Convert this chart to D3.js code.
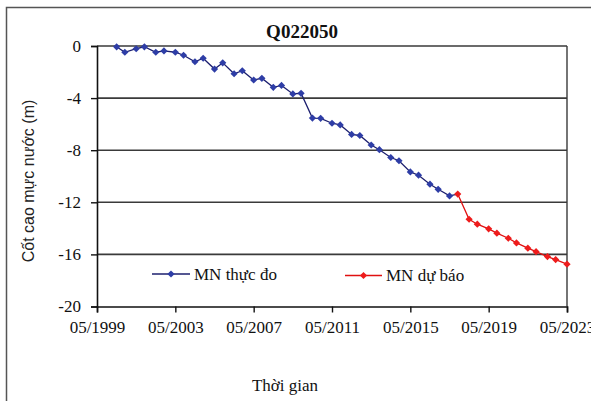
<!DOCTYPE html>
<html>
<head>
<meta charset="utf-8">
<script src="https://cdn.jsdelivr.net/npm/d3@7"></script>
<style>
  html, body { margin: 0; padding: 0; background: #fff; }
  svg { display: block; }
</style>
</head>
<body>
<svg id="chart" width="591" height="401"></svg>
<script>
const title = "Q022050";
const yAxisLabel = "Cốt cao mực nước (m)";
const xAxisLabel = "Thời gian";
const seriesNames = ["MN thực đo", "MN dự báo"];

const xTickLabels = ["05/1999", "05/2003", "05/2007", "05/2011", "05/2015", "05/2019", "05/2023"];
const yTickValues = [0, -4, -8, -12, -16, -20];

const observedDates = [
  "05/2000","10/2000","05/2001","10/2001","05/2002","10/2002","05/2003","10/2003",
  "05/2004","10/2004","05/2005","10/2005","05/2006","10/2006","05/2007","10/2007",
  "05/2008","10/2008","05/2009","10/2009","05/2010","10/2010","05/2011","10/2011",
  "05/2012","10/2012","05/2013","10/2013","05/2014","10/2014","05/2015","10/2015",
  "05/2016","10/2016","05/2017","10/2017"
];
const observedValues = [
  -0.06, -0.48, -0.21, -0.06, -0.48, -0.38, -0.48, -0.71,
  -1.21, -0.94, -1.77, -1.29, -2.13, -1.90, -2.61, -2.48,
  -3.17, -3.03, -3.68, -3.63, -5.53, -5.55, -5.93, -6.06,
  -6.79, -6.87, -7.60, -7.96, -8.56, -8.81, -9.67, -9.92,
  -10.61, -11.00, -11.51, -11.37
];

const forecastDates = [
  "10/2017","05/2018","10/2018","05/2019","10/2019","05/2020",
  "10/2020","05/2021","10/2021","05/2022","10/2022","05/2023"
];
const forecastValues = [
  -11.37, -13.30, -13.68, -14.04, -14.37, -14.76,
  -15.12, -15.52, -15.79, -16.17, -16.40, -16.75
];

const parse = d3.timeParse("%m/%Y");
const svg = d3.select("#chart");
const L = 97, R = 567, T = 46, B = 306.5;

const x = d3.scaleTime().domain([parse("05/1999"), parse("05/2023")]).range([L, R]);
const y = d3.scaleLinear().domain([-20, 0]).range([B, T]);

const serif = "'Liberation Serif', 'Times New Roman', serif";
const sans = "'Liberation Sans', Arial, sans-serif";

// outer frame
svg.append("rect").attr("x", 6.5).attr("y", 7.5).attr("width", 620).attr("height", 420)
  .attr("fill", "none").attr("stroke", "#555").attr("stroke-width", 1.5);

// gridlines
svg.append("g").selectAll("line").data(yTickValues.filter(v => v > -20)).join("line")
  .attr("x1", L).attr("x2", R).attr("y1", d => y(d)).attr("y2", d => y(d))
  .attr("stroke", "#3a3a3a").attr("stroke-width", 1.6);
// right frame
svg.append("line").attr("x1", R).attr("x2", R).attr("y1", T).attr("y2", B)
  .attr("stroke", "#3a3a3a").attr("stroke-width", 1.4);

// axes
const yAxis = d3.axisLeft(y).tickValues(yTickValues).tickSize(6).tickPadding(10)
  .tickFormat(d => d === 0 ? "0" : "-" + Math.abs(d));
const gy = svg.append("g").attr("transform", `translate(${L},0)`).call(yAxis);
const xAxis = d3.axisBottom(x).tickValues(xTickLabels.map(parse)).tickSize(6).tickPadding(8)
  .tickFormat(d3.timeFormat("%m/%Y"));
const gx = svg.append("g").attr("transform", `translate(0,${B})`).call(xAxis);
[gx, gy].forEach(g => {
  g.select(".domain").attr("stroke", "#111").attr("stroke-width", 1.6);
  g.selectAll(".tick line").attr("stroke", "#111").attr("stroke-width", 1.4);
  g.selectAll(".tick text").attr("font-family", serif).attr("font-size", 17).attr("fill", "#111");
});

// lines
const line = d3.line().x(d => x(d.date)).y(d => y(d.value));
const obs = observedDates.map((d, i) => ({ date: parse(d), value: observedValues[i] }));
const fc = forecastDates.map((d, i) => ({ date: parse(d), value: forecastValues[i] }));

const blueLine = "#1c1f6e", blueMark = "#2e3da6";
const redLine = "#e01010", redMark = "#ee1c1c";
const marker = d3.symbol().type(d3.symbolSquare).size(26);

svg.append("path").datum(obs).attr("d", line).attr("fill", "none")
  .attr("stroke", blueLine).attr("stroke-width", 1.3);
svg.append("g").selectAll("path").data(obs.slice(0, -1)).join("path")
  .attr("d", marker).attr("fill", blueMark)
  .attr("transform", d => `translate(${x(d.date)},${y(d.value)}) rotate(45)`);

svg.append("path").datum(fc).attr("d", line).attr("fill", "none")
  .attr("stroke", redLine).attr("stroke-width", 1.3);
svg.append("g").selectAll("path").data(fc).join("path")
  .attr("d", marker).attr("fill", redMark)
  .attr("transform", d => `translate(${x(d.date)},${y(d.value)}) rotate(45)`);

// legend
const legend = [
  { name: seriesNames[0], x1: 152, x2: 190, ty: 274, lc: blueLine, mc: blueMark },
  { name: seriesNames[1], x1: 345, x2: 382, ty: 275.5, lc: redLine, mc: redMark }
];
legend.forEach(l => {
  svg.append("line").attr("x1", l.x1).attr("x2", l.x2).attr("y1", l.ty).attr("y2", l.ty)
    .attr("stroke", l.lc).attr("stroke-width", 1.3);
  svg.append("path").attr("d", marker).attr("fill", l.mc)
    .attr("transform", `translate(${(l.x1 + l.x2) / 2},${l.ty}) rotate(45)`);
  svg.append("text").attr("x", l.x2 + 4).attr("y", l.ty + 5.5).text(l.name)
    .attr("font-family", serif).attr("font-size", 17).attr("fill", "#111");
});

// title
svg.append("text").attr("x", 302).attr("y", 38).attr("text-anchor", "middle")
  .attr("font-family", serif).attr("font-weight", "bold").attr("font-size", 19)
  .attr("fill", "#111").text(title);

// axis labels
svg.append("text").attr("x", 285).attr("y", 391).attr("text-anchor", "middle")
  .attr("font-family", serif).attr("font-size", 17).attr("fill", "#111").text(xAxisLabel);
svg.append("text").attr("transform", "translate(34,181) rotate(-90)").attr("text-anchor", "middle")
  .attr("font-family", sans).attr("font-size", 16).attr("fill", "#222").text(yAxisLabel);
</script>
</body>
</html>
